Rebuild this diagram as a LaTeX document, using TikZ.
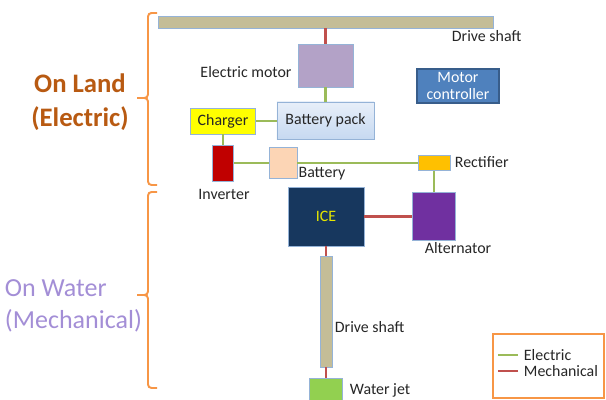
\documentclass[tikz,border=0pt]{standalone}
\usepackage{fontspec}
\setmainfont{Carlito}
\usepackage{xcolor}
\definecolor{shaftTan}{HTML}{C4BD97}
\definecolor{motorLilac}{HTML}{B3A2C7}
\definecolor{packBlueTop}{HTML}{E8EFF9}
\definecolor{packBlueBot}{HTML}{C6D9F1}
\definecolor{chargerYellow}{HTML}{FFFF00}
\definecolor{inverterRed}{HTML}{C00000}
\definecolor{batteryPeach}{HTML}{FCD5B5}
\definecolor{rectOrange}{HTML}{FFC000}
\definecolor{ctrlBlue}{HTML}{4F81BD}
\definecolor{ctrlEdge}{HTML}{385D8A}
\definecolor{iceNavy}{HTML}{17375E}
\definecolor{iceYellow}{HTML}{E6E600}
\definecolor{altPurple}{HTML}{7030A0}
\definecolor{jetGreen}{HTML}{92D050}
\definecolor{lineGreen}{HTML}{9BBB59}
\definecolor{lineRed}{HTML}{C0504D}
\definecolor{braceOrange}{HTML}{F79646}
\definecolor{landBrown}{HTML}{B85A12}
\definecolor{waterLilac}{HTML}{A38ED6}
\definecolor{edgeBlue}{HTML}{95B3D7}
\definecolor{textGray}{HTML}{262626}

\begin{document}
\begin{tikzpicture}[x=0.025cm, y=-0.025cm,
  every node/.style={font=\fontsize{11.3}{13.5}\selectfont, text=textGray},
  part/.style={draw=edgeBlue, line width=0.6pt, inner sep=0pt},
  elec/.style={line width=2pt, lineGreen},
  mech/.style={line width=2pt, lineRed},
  sidebrace/.style={line width=1.4pt, braceOrange, rounded corners=2.5pt}]
  \useasboundingbox (0,0) rectangle (606,400);

  % Modes on the left
  \node[font=\fontsize{19}{24}\selectfont\bfseries, text=landBrown, align=center]
        (land) at (80,102) {On Land\\(Electric)};
  \node[font=\fontsize{18.5}{23}\selectfont, text=waterLilac, align=left, anchor=west]
        (water) at (0,306) {On Water\\(Mechanical)};
  \draw[sidebrace] (157,13) -- (148,13) -- (148,98) -- (137,98);
  \draw[sidebrace] (137,98) -- (148,98) -- (148,185) -- (157,185);
  \draw[sidebrace] (157,192) -- (148,192) -- (148,295) -- (137,295);
  \draw[sidebrace] (137,295) -- (148,295) -- (148,388) -- (157,388);

  % Land part: motor, batteries and charging
  \node[part, fill=shaftTan, minimum width=8.375cm, minimum height=0.3cm] (shafttop) at (325.5,22) {};
  \node[anchor=west] (shafttoplbl) at (447,36) {Drive shaft};
  \node[part, fill=motorLilac, minimum width=1.375cm, minimum height=1.075cm] (motor) at (325.5,65.5) {};
  \node (motorlbl) at (246,72) {Electric motor};
  \node[part, top color=packBlueTop, bottom color=packBlueBot, minimum width=2.425cm,
        minimum height=0.925cm] (pack) at (325.5,120.5) {Battery pack};
  \node[part, fill=chargerYellow, minimum width=1.625cm, minimum height=0.65cm] (charger) at (223,121) {Charger};
  \node[part, fill=inverterRed, minimum width=0.525cm, minimum height=0.9cm] (inverter) at (223,163) {};
  \node (inverterlbl) at (224,194) {Inverter};
  \node[part, fill=batteryPeach, minimum width=0.7cm, minimum height=0.775cm] (battery) at (283,163) {};
  \node (batterylbl) at (322,174) {Battery};
  \node[part, fill=rectOrange, minimum width=0.8cm, minimum height=0.375cm] (rectifier) at (434,163) {};
  \node[anchor=west] (rectifierlbl) at (450,162) {Rectifier};
  \node[draw=ctrlEdge, line width=0.8pt, fill=ctrlBlue, text=white, align=center, inner sep=0pt,
        minimum width=2.05cm, minimum height=0.85cm] (controller) at (458,86) {Motor\\[-2pt]controller};

  % Water part: engine and jet
  \node[part, fill=iceNavy, text=iceYellow, minimum width=1.9cm, minimum height=1.475cm] (ice) at (326,216.5) {ICE};
  \node[part, fill=altPurple, minimum width=1.075cm, minimum height=1.2cm] (alternator) at (434,216.5) {};
  \node (alternatorlbl) at (458,248) {Alternator};
  \node[part, fill=shaftTan, minimum width=0.3cm, minimum height=2.775cm] (shaftlow) at (326,311.5) {};
  \node[anchor=west] (shaftlowlbl) at (330,327) {Drive shaft};
  \node[part, fill=jetGreen, minimum width=0.825cm, minimum height=0.6cm] (jet) at (326,390) {};
  \node[anchor=west] (jetlbl) at (345,390) {Water jet};

  % Connections
  \draw[mech] (motor.north) -- (motor.north |- shafttop.south);
  \draw[elec] (motor.south) -- (pack.north);
  \draw[elec] (charger.east) -- (pack.west |- charger.east);
  \draw[elec] (charger.south) -- (inverter.north);
  \draw[elec] (inverter.east) -- (battery.west);
  \draw[elec] (battery.east) -- (rectifier.west);
  \draw[elec] (rectifier.south) -- (alternator.north);
  \draw[mech] (ice.east) -- (alternator.west);
  \draw[mech] (ice.south) -- (shaftlow.north);
  \draw[mech] (shaftlow.south) -- (jet.north);

  % Legend
  \node[draw=braceOrange, line width=1pt, minimum width=2.775cm, minimum height=1.6cm] (legend) at (548.5,366) {};
  \node[anchor=west] (legelec) at (519,355) {Electric};
  \node[anchor=west] (legmech) at (519,371) {Mechanical};
  \draw[elec] (legelec.west) ++(-1,0) -- ++(-20,0);
  \draw[mech] (legmech.west) ++(-1,0) -- ++(-20,0);
\end{tikzpicture}
\end{document}
